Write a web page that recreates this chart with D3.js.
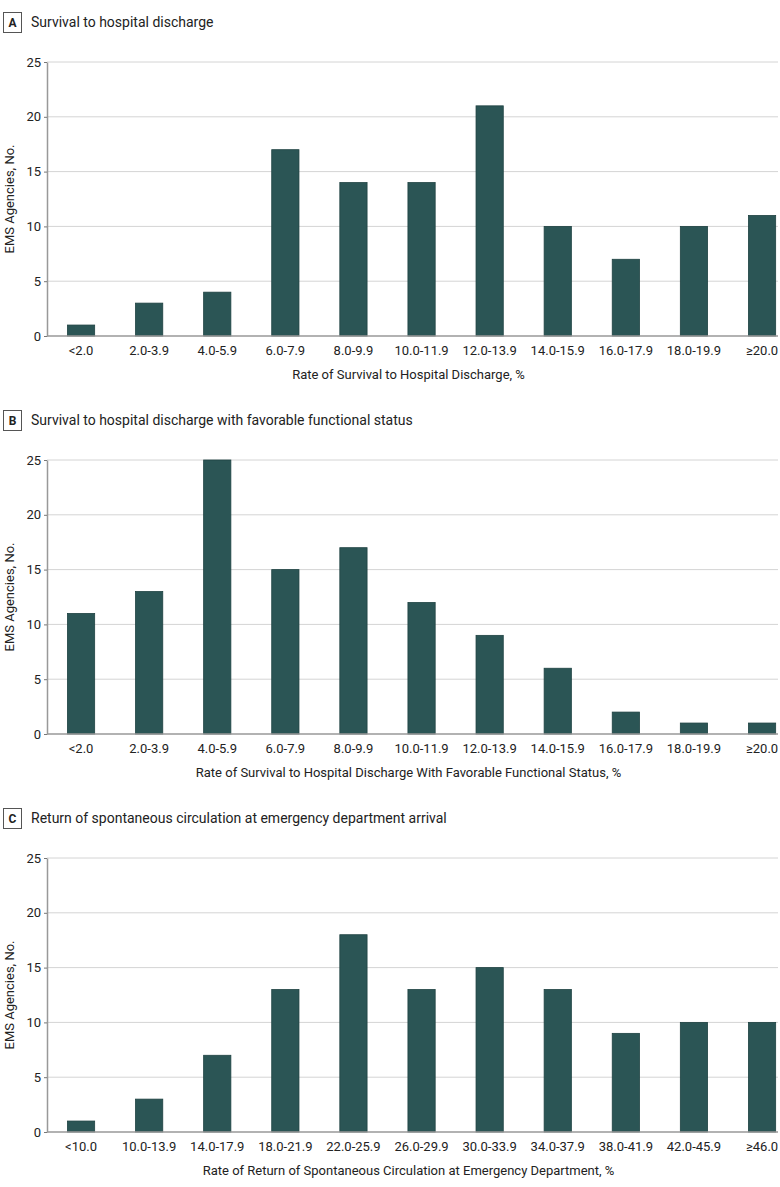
<!DOCTYPE html>
<html>
<head>
<meta charset="utf-8">
<script src="https://cdn.jsdelivr.net/npm/d3@7"></script>
<style>
  body { margin: 0; background: #fff; }
  text { font-family: "Liberation Sans Narrow", "Roboto", "DejaVu Sans Condensed", sans-serif; fill: #222; }
</style>
</head>
<body>
<div id="chart"></div>
<script>
// categories and counts for each panel
var catsLow = ["<2.0","2.0-3.9","4.0-5.9","6.0-7.9","8.0-9.9","10.0-11.9","12.0-13.9","14.0-15.9","16.0-17.9","18.0-19.9","\u226520.0"];
var catsRosc = ["<10.0","10.0-13.9","14.0-17.9","18.0-21.9","22.0-25.9","26.0-29.9","30.0-33.9","34.0-37.9","38.0-41.9","42.0-45.9","\u226546.0"];
var survival = [1,3,4,17,14,14,21,10,7,10,11];
var favorable = [11,13,25,15,17,12,9,6,2,1,1];
var rosc = [1,3,7,13,18,13,15,13,9,10,10];
var yTicks = [0,5,10,15,20,25];

var panels = [
  {letter:"A", title:"Survival to hospital discharge", xTitle:"Rate of Survival to Hospital Discharge, %", cats:catsLow, values:survival, top:0},
  {letter:"B", title:"Survival to hospital discharge with favorable functional status", xTitle:"Rate of Survival to Hospital Discharge With Favorable Functional Status, %", cats:catsLow, values:favorable, top:398},
  {letter:"C", title:"Return of spontaneous circulation at emergency department arrival", xTitle:"Rate of Return of Spontaneous Circulation at Emergency Department, %", cats:catsRosc, values:rosc, top:796}
];

var W = 780, H = 1187;
var svg = d3.select("#chart").append("svg")
    .attr("width", W)
    .attr("height", H);

var left = 47, right = 778, plotTop = 62, plotBottom = 336;

panels.forEach(function(p) {
  var g = svg.append("g").attr("transform", "translate(0," + p.top + ")");

  // panel letter box + title
  g.append("rect")
    .attr("x", 3.5).attr("y", 12.5).attr("width", 18).attr("height", 20)
    .attr("fill", "#fff").attr("stroke", "#555").attr("stroke-width", 1);
  g.append("text")
    .attr("x", 12.5).attr("y", 27)
    .attr("text-anchor", "middle")
    .style("font-size", "12px").style("font-weight", "bold")
    .text(p.letter);
  g.append("text")
    .attr("x", 31).attr("y", 27)
    .style("font-size", "14px")
    .text(p.title);

  var x = d3.scaleBand()
    .domain(p.cats)
    .range([left, left + 11 * 68.1])
    .paddingInner(0.6)
    .paddingOuter(0.3);

  var y = d3.scaleLinear()
    .domain([0, 25])
    .range([plotBottom, plotTop]);

  // gridlines
  g.append("g").selectAll("line")
    .data(yTicks.filter(function(d) { return d > 0; }))
    .enter().append("line")
      .attr("x1", left).attr("x2", right)
      .attr("y1", function(d) { return y(d); })
      .attr("y2", function(d) { return y(d); })
      .attr("stroke", "#d4d4d4")
      .attr("stroke-width", 1);

  // bars
  g.append("g").selectAll("rect")
    .data(p.values)
    .enter().append("rect")
      .attr("x", function(d, i) { return x(p.cats[i]); })
      .attr("y", function(d) { return y(d); })
      .attr("width", x.bandwidth())
      .attr("height", function(d) { return y(0) - y(d); })
      .attr("fill", "#2b5555")
      .attr("stroke", "#1f4242")
      .attr("stroke-width", 0.8);

  // y axis
  var yAxis = g.append("g")
    .attr("transform", "translate(" + left + ",0)")
    .call(d3.axisLeft(y).tickValues(yTicks).tickSize(3).tickSizeOuter(0));
  yAxis.select(".domain").attr("stroke", "#999").attr("stroke-width", 1.5);
  yAxis.selectAll(".tick line").attr("stroke", "#777");
  yAxis.selectAll("text").style("font-size", "13px").attr("fill", "#222");

  // x axis baseline
  g.append("line")
    .attr("x1", left).attr("x2", right)
    .attr("y1", y(0)).attr("y2", y(0))
    .attr("stroke", "#999").attr("stroke-width", 1.5);

  // x labels
  g.append("g").selectAll("text")
    .data(p.cats)
    .enter().append("text")
      .attr("x", function(d) { return x(d) + x.bandwidth() / 2; })
      .attr("y", y(0) + 19)
      .attr("text-anchor", "middle")
      .style("font-size", "13px")
      .text(function(d) { return d; });

  // axis titles
  g.append("text")
    .attr("x", (left + right) / 2 - 4)
    .attr("y", y(0) + 43)
    .attr("text-anchor", "middle")
    .style("font-size", "13px")
    .text(p.xTitle);

  g.append("text")
    .attr("transform", "translate(14," + ((plotTop + plotBottom) / 2) + ") rotate(-90)")
    .attr("text-anchor", "middle")
    .style("font-size", "13px")
    .text("EMS Agencies, No.");
});
</script>
</body>
</html>
